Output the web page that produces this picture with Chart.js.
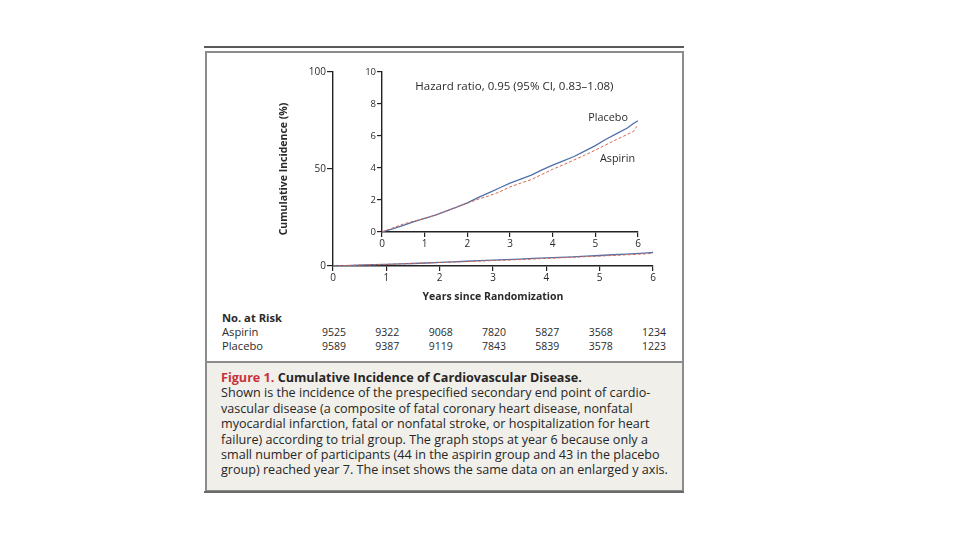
<!DOCTYPE html>
<html>
<head>
<meta charset="utf-8">
<script src="https://cdn.jsdelivr.net/npm/chart.js@4/dist/chart.umd.min.js"></script>
<style>
  body { margin: 0; width: 960px; height: 540px; background: #fff; position: relative; overflow: hidden; font-family: "Open Sans", sans-serif; color: #2b2b2b; }
  .abs { position: absolute; }
  #topRule { left: 204px; top: 46px; width: 480px; height: 2px; background: #5a5a5a; }
  #box { left: 205px; top: 51px; width: 475px; height: 436px; border: 2px solid #8c8c8c; background: #fff; }
  #caption { left: 207px; top: 361px; width: 475px; height: 127px; background: #f1efea; border-top: 2px solid #8c8c8c; }
  #bottomRule { left: 204px; top: 491px; width: 480px; height: 2px; background: #6a6a6a; }
  canvas { position: absolute; }
  .risk { position: absolute; font-size: 11.2px; line-height: 14px; white-space: nowrap; }
  .num { font-size: 10.5px; transform: translateX(-50%); }
  #capText { position: absolute; left: 221px; top: 370px; font-size: 12.6px; line-height: 15.4px; white-space: nowrap; color: #262626; }
  #capText b { font-weight: 700; }
  #capText b.red { color: #c8323c; }
</style>
</head>
<body>
<div id="topRule" class="abs"></div>
<div id="box" class="abs"></div>
<div id="caption" class="abs"></div>
<div id="bottomRule" class="abs"></div>
<canvas id="mainChart" width="400" height="245" style="left:278px;top:62px"></canvas>
<canvas id="insetChart" width="310" height="195" style="left:340px;top:62px"></canvas>
<div id="riskTable"></div>
<div id="capText"><b class="red">Figure 1.</b> <b>Cumulative Incidence of Cardiovascular Disease.</b><br>
Shown is the incidence of the prespecified secondary end point of cardio-<br>
vascular disease (a composite of fatal coronary heart disease, nonfatal<br>
myocardial infarction, fatal or nonfatal stroke, or hospitalization for heart<br>
failure) according to trial group. The graph stops at year 6 because only a<br>
small number of participants (44 in the aspirin group and 43 in the placebo<br>
group) reached year 7. The inset shows the same data on an enlarged y axis.</div>
<script>
// values (cumulative incidence, %)
const years = [0, 0.25, 0.5, 0.75, 1, 1.25, 1.5, 1.75, 2, 2.25, 2.5, 2.75, 3, 3.25, 3.5, 3.75, 4, 4.25, 4.5, 4.75, 5, 5.25, 5.5, 5.75, 5.9, 6];
const placebo = [0, 0.2, 0.42, 0.65, 0.85, 1.05, 1.3, 1.55, 1.82, 2.15, 2.45, 2.75, 3.05, 3.3, 3.55, 3.88, 4.18, 4.45, 4.72, 5.05, 5.4, 5.8, 6.15, 6.5, 6.8, 6.95];
const aspirinYears = [0, 0.25, 0.5, 0.75, 1, 1.25, 1.5, 1.75, 2, 2.25, 2.5, 2.75, 3, 3.25, 3.5, 3.75, 4, 4.25, 4.5, 4.75, 5, 5.25, 5.5, 5.75, 5.9, 5.97];
const aspirin = [0, 0.25, 0.5, 0.68, 0.85, 1.05, 1.3, 1.55, 1.8, 2.05, 2.25, 2.5, 2.82, 3.05, 3.28, 3.6, 3.92, 4.2, 4.5, 4.8, 5.12, 5.45, 5.78, 6.1, 6.3, 6.6];

const xTicks = [0, 1, 2, 3, 4, 5, 6];
const mainYTicks = [0, 50, 100];
const insetYTicks = [0, 2, 4, 6, 8, 10];

const riskAspirin = [9525, 9322, 9068, 7820, 5827, 3568, 1234];
const riskPlacebo = [9589, 9387, 9119, 7843, 5839, 3578, 1223];

const hazardText = 'Hazard ratio, 0.95 (95% CI, 0.83\u20131.08)';

const FONT = '"Open Sans", sans-serif';
const INK = '#2b2b2b';
const BLUE = '#4f70ad';
const RED = '#d2674f';

function pts(xs, ys) {
    return xs.map(function(x, i) { return { x: x, y: ys[i] }; });
}

function datasets() {
    return [{
        label: 'Placebo',
        data: pts(years, placebo),
        borderColor: BLUE,
        borderWidth: 1.3,
        pointRadius: 0,
        order: 1
    }, {
        label: 'Aspirin',
        data: pts(aspirinYears, aspirin),
        borderColor: RED,
        borderWidth: 1,
        borderDash: [3, 2],
        pointRadius: 0,
        order: 0
    }];
}

function axis(min, max, ticks, labelSize, tickLen) {
    return {
        type: 'linear',
        min: min,
        max: max,
        afterBuildTicks: function(s) { s.ticks = ticks.map(function(v) { return { value: v }; }); },
        grid: { display: true, drawOnChartArea: false, drawTicks: true, tickLength: tickLen, color: '#222', lineWidth: 1.2 },
        border: { display: true, color: '#222', width: 1.4 },
        ticks: { color: INK, font: { family: FONT, size: labelSize }, padding: 1, maxRotation: 0, autoSkip: false }
    };
}

// Main chart
const mainX = axis(0, 6, xTicks, 10, 5);
mainX.title = { display: true, text: 'Years since Randomization', color: INK, font: { family: FONT, size: 10.5, weight: 'bold' }, padding: { top: 2 } };
mainX.afterFit = function(s) { s.height = 41; };
const mainY = axis(0, 100, mainYTicks, 10, 6);
mainY.title = { display: true, text: 'Cumulative Incidence (%)', color: INK, font: { family: FONT, size: 10.5, weight: 'bold' }, padding: 0 };
mainY.afterFit = function(s) { s.width = 55; };

const mainChart = new Chart(document.getElementById('mainChart'), {
    type: 'line',
    data: { datasets: datasets() },
    options: {
        responsive: false,
        animation: false,
        layout: { padding: { top: 10, right: 25, left: 0, bottom: 0 } },
        plugins: { legend: { display: false }, tooltip: { enabled: false } },
        scales: { x: mainX, y: mainY }
    }
});

// Inset chart
const labelPlugin = {
    id: 'curveLabels',
    afterDatasetsDraw: function(chart) {
        const ctx = chart.ctx, sx = chart.scales.x, sy = chart.scales.y;
        ctx.save();
        ctx.fillStyle = INK;
        ctx.textBaseline = 'middle';
        ctx.textAlign = 'left';
        ctx.font = '11.5px ' + FONT;
        ctx.fillText(hazardText, sx.getPixelForValue(0.78), sy.getPixelForValue(9.1));
        ctx.textAlign = 'center';
        ctx.font = '10.8px ' + FONT;
        ctx.fillText('Placebo', sx.getPixelForValue(5.3), sy.getPixelForValue(7.15));
        ctx.fillText('Aspirin', sx.getPixelForValue(5.52), sy.getPixelForValue(4.55));
        ctx.restore();
    }
};

const insetX = axis(0, 6, xTicks, 10, 5);
insetX.afterFit = function(s) { s.height = 25; };
const insetY = axis(0, 10, insetYTicks, 9.5, 5);
insetY.afterFit = function(s) { s.width = 42; };

new Chart(document.getElementById('insetChart'), {
    type: 'line',
    data: { datasets: datasets() },
    options: {
        responsive: false,
        animation: false,
        layout: { padding: { top: 10, right: 12, left: 0, bottom: 0 } },
        plugins: { legend: { display: false }, tooltip: { enabled: false } },
        scales: { x: insetX, y: insetY }
    },
    plugins: [labelPlugin]
});

// Number at risk table, columns placed on the main x scale
const table = document.getElementById('riskTable');
const canvasLeft = 278;
function addText(txt, left, top, cls, bold) {
    const d = document.createElement('div');
    d.className = 'risk ' + (cls || '');
    d.style.left = left + 'px';
    d.style.top = top + 'px';
    if (bold) d.style.fontWeight = 'bold';
    d.textContent = txt;
    table.appendChild(d);
}
addText('No. at Risk', 222, 311, '', true);
addText('Aspirin', 222, 325);
addText('Placebo', 222, 339);
xTicks.forEach(function(t, i) {
    const px = canvasLeft + mainChart.scales.x.getPixelForValue(t) + 1;
    addText(String(riskAspirin[i]), px, 325, 'num');
    addText(String(riskPlacebo[i]), px, 339, 'num');
});
</script>
</body>
</html>
